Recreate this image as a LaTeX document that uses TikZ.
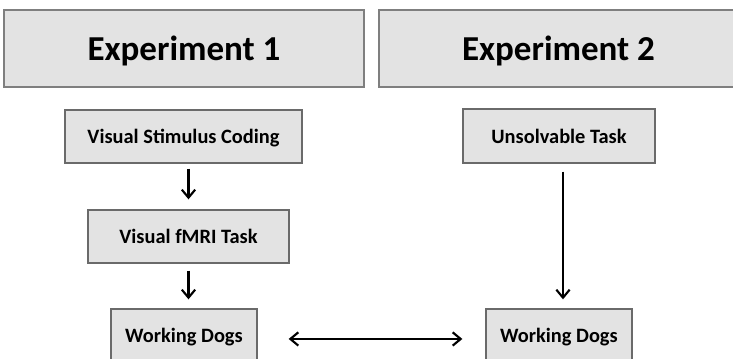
\documentclass[tikz,border=0pt]{standalone}
\usepackage{fontspec}
\setmainfont{Carlito}
\usetikzlibrary{arrows.meta}
\definecolor{boxfill}{HTML}{E3E3E3}
\definecolor{bigedge}{HTML}{7F7F7F}
\definecolor{smalledge}{HTML}{6A6A6A}
\tikzset{
  bigbox/.style={draw=bigedge, line width=1.5pt, fill=boxfill, inner sep=0pt, text depth=0pt,
    minimum height=57.75pt, font=\fontsize{26.25pt}{30pt}\selectfont\bfseries},
  smallbox/.style={draw=smalledge, line width=1pt, fill=boxfill, inner sep=0pt, text depth=0pt,
    font=\fontsize{15.3pt}{18pt}\selectfont\bfseries},
  flow/.style={line width=1.6pt, -{Straight Barb[length=6pt,width=10pt,line width=1.6pt]}},
  flowboth/.style={line width=1.6pt, {Straight Barb[length=6pt,width=10pt,line width=1.6pt]}-{Straight Barb[length=6pt,width=10pt,line width=1.6pt]}}
}
\begin{document}
\begin{tikzpicture}[x=0.75pt,y=-0.75pt]
\useasboundingbox (0,0) rectangle (733,358);
\clip (0,0) rectangle (733,358);
\node[bigbox, minimum width=270pt] (e1) at (184,48.5) {Experiment 1};
\node[bigbox, minimum width=269.25pt] (e2) at (558.5,48.5) {Experiment 2};
\node[smallbox, minimum width=177.75pt, minimum height=39.75pt] (vsc) at (183.5,136.5) {Visual Stimulus Coding};
\node[smallbox, minimum width=150.75pt, minimum height=39.75pt] (vft) at (188.5,236.5) {Visual fMRI Task};
\node[smallbox, minimum width=109.5pt, minimum height=39.75pt] (wd1) at (184,335.5) {Working Dogs};
\node[smallbox, minimum width=144pt, minimum height=40.5pt] (ut) at (559,136) {Unsolvable Task};
\node[smallbox, minimum width=109.5pt, minimum height=39.75pt] (wd2) at (559,335.5) {Working Dogs};
\draw[flow, shorten <=3.75pt, shorten >=7.5pt] (vsc.south -| vft.north) -- (vft.north);
\draw[flow, shorten <=5.25pt, shorten >=6.75pt] (vft.south) -- (vft.south |- wd1.north);
\draw[flow, shorten <=6pt, shorten >=6.75pt] ([xshift=3pt]ut.south) -- ([xshift=3pt]ut.south |- wd2.north);
\draw[flowboth, shorten <=23.25pt, shorten >=17.25pt] ([yshift=-2.6pt]wd1.east) -- ([yshift=-2.6pt]wd1.east -| wd2.west);
\end{tikzpicture}
\end{document}
